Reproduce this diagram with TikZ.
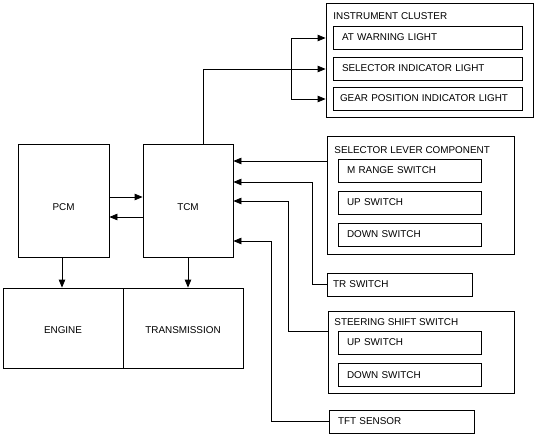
\documentclass[tikz,border=0pt]{standalone}
\usepackage{fontspec}
\setmainfont{Liberation Sans}
\usetikzlibrary{arrows.meta,positioning}

\begin{document}
\begin{tikzpicture}[x=1pt, y=-1pt, >={Triangle[length=8pt,width=6.5pt]},
  line width=0.8pt,
  every node/.style={font=\fontsize{9.9}{11}\selectfont},
  every label/.style={font=\fontsize{9.9}{11}\selectfont, inner sep=0pt},
  block/.style={draw, line width=0.8pt, inner sep=0pt},
  unit/.style={draw, line width=0.8pt, minimum height=23pt, inner xsep=9pt, align=left}]

\useasboundingbox (0,0) rectangle (536,437);

% Steuergeraete
\node[block, minimum width=91pt, minimum height=113pt, label={[yshift=-6.5pt]center:PCM}] (pcm) at (63.5,200.5) {};
\node[block, minimum width=90pt, minimum height=113pt, label={[yshift=-6.5pt]center:TCM}] (tcm) at (188,200.5) {};

% Engine / Transmission
\node[block, minimum width=120pt, minimum height=80pt, label={[yshift=-2pt]center:ENGINE}] (engine) at (63,328) {};
\node[block, minimum width=120pt, minimum height=80pt, label={[yshift=-2pt]center:TRANSMISSION}] (trans) at (183,328) {};

% Instrument cluster
\node[block, minimum width=207pt, minimum height=114pt] (cluster) at (429.5,60) {};
\node[anchor=west, inner sep=0pt] (clustertitle) at (333,16) {INSTRUMENT CLUSTER};
\node[unit, text width=171pt] (atw) at (427.5,37.5) {AT WARNING LIGHT};
\node[unit, text width=171pt] (sil) at (427.5,68.5) {SELECTOR INDICATOR LIGHT};
\node[unit, inner xsep=7pt, text width=175pt] (gpil) at (427.5,98.5) {GEAR POSITION INDICATOR LIGHT};

% Selector lever
\node[block, minimum width=187pt, minimum height=118pt] (sel) at (420.5,195) {};
\node[anchor=west, inner sep=0pt] (seltitle) at (334,150) {SELECTOR LEVER COMPONENT};
\node[unit, text width=125pt] (mrange) at (409.5,170.5) {M RANGE SWITCH};
\node[unit, text width=125pt] (selup) at (409.5,202.5) {UP SWITCH};
\node[unit, text width=125pt] (seldown) at (409.5,234.5) {DOWN SWITCH};

% TR switch
\node[unit, text width=133pt, inner xsep=6pt] (tr) at (399.5,284.5) {TR SWITCH};

% Steering shift switch
\node[block, minimum width=186pt, minimum height=82pt] (steer) at (421,352) {};
\node[anchor=west, inner sep=0pt] (steertitle) at (334,322) {STEERING SHIFT SWITCH};
\node[unit, text width=125pt] (stup) at (409.5,342.5) {UP SWITCH};
\node[unit, text width=125pt] (stdown) at (409.5,375) {DOWN SWITCH};

% TFT sensor
\node[unit, text width=127pt] (tft) at (401.5,421.5) {TFT SENSOR};

% PCM <-> TCM
\draw[->] (pcm.east |- 0,197) -- (tcm.west |- 0,197);
\draw[->] (tcm.west |- 0,217) -- (pcm.east |- 0,217);

% Ausgaenge nach unten
\draw[->] (pcm.south -| 62,0) -- (engine.north -| 62,0);
\draw[->] (tcm.south) -- (trans.north -| tcm.south);

% TCM -> Instrument cluster
\draw[->] (tcm.north -| 203,0) -- (203,69) -- (cluster.west |- 0,69);
\draw[->] (291,69) -- (291,38) -- (cluster.west |- 0,38);
\draw[->] (291,69) -- (291,99) -- (cluster.west |- 0,99);

% Eingaenge zum TCM
\draw[->] (sel.west |- 0,161) -- (tcm.east |- 0,161);
\draw[->] (tr.west) -- (312,284.5) -- (312,182) -- (tcm.east |- 0,182);
\draw[->] (steer.west |- 0,331) -- (288,331) -- (288,201) -- (tcm.east |- 0,201);
\draw[->] (tft.west) -- (271,421.5) -- (271,241) -- (tcm.east |- 0,241);

\end{tikzpicture}
\end{document}
